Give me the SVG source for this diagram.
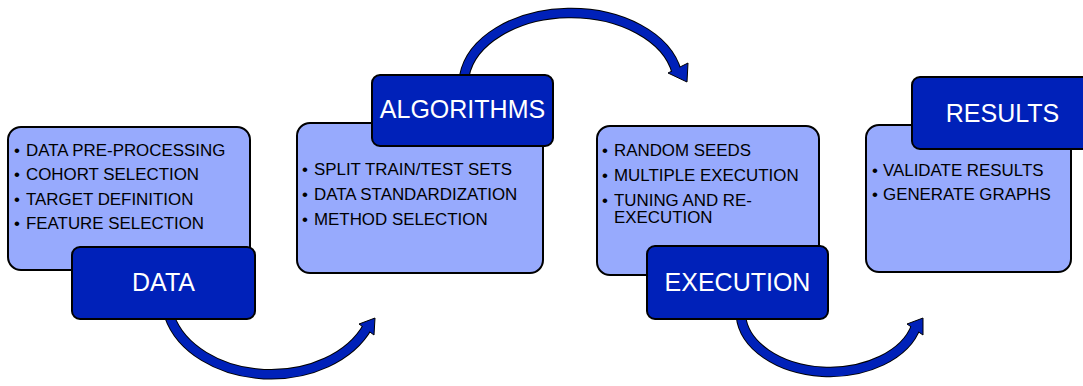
<svg xmlns="http://www.w3.org/2000/svg" width="1083" height="386" viewBox="0 0 1083 386">
<defs>
<style>
.lt{fill:#97aafd;stroke:#000;stroke-width:2}
.dk{fill:#0021b9;stroke:#000;stroke-width:2}
.hd{font-family:"Liberation Sans",Arial,sans-serif;font-size:25px;fill:#fff;text-anchor:middle}
.bl{font-family:"Liberation Sans",Arial,sans-serif;font-size:16.9px;fill:#000}
.so{fill:none;stroke:#000;stroke-width:10.5}
.si{fill:none;stroke:#0021b9;stroke-width:8.5}
.ah{fill:#0021b9;stroke:#000;stroke-width:1;stroke-linejoin:miter}
</style>
</defs>
<rect width="1083" height="386" fill="#fff"/>
<g id="connectors">
<g id="c1">
<path class="so" d="M169.3,316 A105,78 0 0 0 368,326"/>
<polygon class="ah" points="359,324 375,318 374,335"/>
<path class="si" d="M169.3,316 A105,78 0 0 0 368,326"/>
</g>
<g id="c2">
<path class="so" d="M464.3,76 A107.5,72 0 0 1 676.7,72"/>
<polygon class="ah" points="668,73 688,63 687,82"/>
<path class="si" d="M464.3,76 A107.5,72 0 0 1 676.7,72"/>
</g>
<g id="c3">
<path class="so" d="M740.9,316 A89,60 0 0 0 916.2,326"/>
<polygon class="ah" points="907,324 923,318 923,335"/>
<path class="si" d="M740.9,316 A89,60 0 0 0 916.2,326"/>
</g>
</g>
<g id="data">
<rect class="lt" x="8" y="127" width="242" height="143" rx="13"/>
<text class="bl"><tspan x="14" y="155.5">•</tspan><tspan x="26" y="155.5">DATA PRE-PROCESSING</tspan><tspan x="14" y="180">•</tspan><tspan x="26" y="180">COHORT SELECTION</tspan><tspan x="14" y="204.5">•</tspan><tspan x="26" y="204.5">TARGET DEFINITION</tspan><tspan x="14" y="229">•</tspan><tspan x="26" y="229">FEATURE SELECTION</tspan></text>
<rect class="dk" x="72" y="247" width="183" height="72" rx="8"/>
<text class="hd" x="163.5" y="291">DATA</text>
</g>
<g id="algorithms">
<rect class="lt" x="297" y="123" width="246" height="150" rx="13"/>
<text class="bl"><tspan x="302" y="175">•</tspan><tspan x="314" y="175">SPLIT TRAIN/TEST SETS</tspan><tspan x="302" y="200">•</tspan><tspan x="314" y="200">DATA STANDARDIZATION</tspan><tspan x="302" y="225">•</tspan><tspan x="314" y="225">METHOD SELECTION</tspan></text>
<rect class="dk" x="372" y="75" width="181" height="71" rx="8"/>
<text class="hd" x="462.5" y="118">ALGORITHMS</text>
</g>
<g id="execution">
<rect class="lt" x="597" y="126" width="222" height="149" rx="13"/>
<text class="bl"><tspan x="602" y="156">•</tspan><tspan x="614" y="156">RANDOM SEEDS</tspan><tspan x="602" y="181">•</tspan><tspan x="614" y="181">MULTIPLE EXECUTION</tspan><tspan x="602" y="206">•</tspan><tspan x="614" y="206">TUNING AND RE-</tspan><tspan x="614" y="223">EXECUTION</tspan></text>
<rect class="dk" x="647" y="246" width="181" height="73" rx="8"/>
<text class="hd" x="737.5" y="291">EXECUTION</text>
</g>
<g id="results">
<rect class="lt" x="866" y="125" width="205" height="147" rx="13"/>
<text class="bl"><tspan x="872" y="176">•</tspan><tspan x="883" y="176">VALIDATE RESULTS</tspan><tspan x="872" y="200">•</tspan><tspan x="883" y="200">GENERATE GRAPHS</tspan></text>
<rect class="dk" x="912" y="77" width="181" height="72" rx="8"/>
<text class="hd" x="1002.5" y="122">RESULTS</text>
</g>
</svg>
